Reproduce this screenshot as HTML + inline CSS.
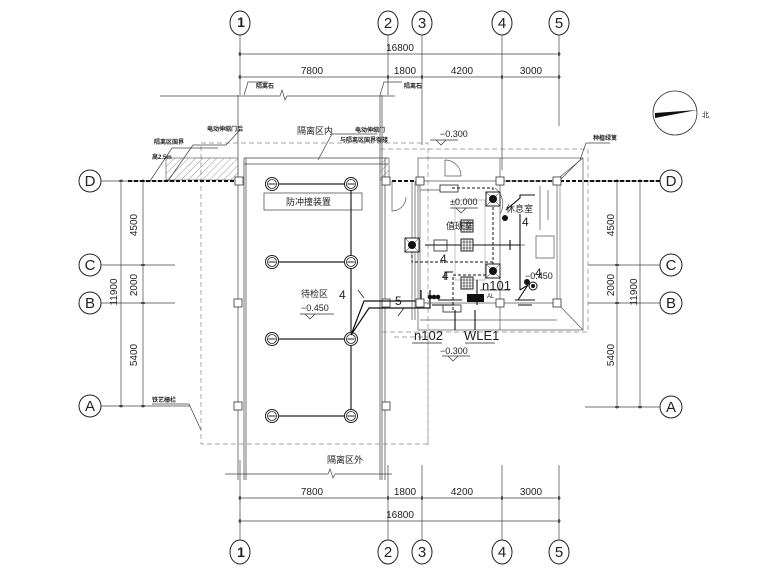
<!DOCTYPE html>
<html><head><meta charset="utf-8"><style>
html,body{margin:0;padding:0;background:#fff;}
svg{display:block}
text{font-family:"Liberation Sans","Noto Sans CJK SC",sans-serif;fill:#222}
</style></head><body>
<svg width="780" height="585" viewBox="0 0 780 585" xmlns="http://www.w3.org/2000/svg">
<defs>
<pattern id="h" width="5" height="5" patternUnits="userSpaceOnUse" patternTransform="rotate(45)"><line x1="0" y1="0" x2="0" y2="5" stroke="#666" stroke-width="0.7"/></pattern>
<g id="lt"><circle r="6.5" fill="#fff" stroke="#222" stroke-width="1"/><circle r="4.5" fill="none" stroke="#222" stroke-width="0.8"/><line x1="-3.5" y1="0" x2="3.5" y2="0" stroke="#222" stroke-width="1"/></g>
<g id="sq"><rect x="-4" y="-4" width="8" height="8" fill="#fff" stroke="#333" stroke-width="0.8"/></g>
<g id="fan"><rect x="-7" y="-7" width="14" height="14" fill="#fff" stroke="#222"/><circle r="4" fill="#111"/><line x1="-7" y1="-7" x2="7" y2="7" stroke="#222" stroke-width="0.5"/><line x1="7" y1="-7" x2="-7" y2="7" stroke="#222" stroke-width="0.5"/></g>
<g id="grid"><rect x="-6" y="-6" width="12" height="12" fill="#fff" stroke="#222"/><path d="M-3,-6V6M0,-6V6M3,-6V6M-6,-3H6M-6,0H6M-6,3H6" stroke="#222" stroke-width="0.6"/></g>
</defs>
<g stroke="#444" stroke-width="0.7" fill="none">
<!-- axis bubbles top/bottom -->
<g stroke="#222" stroke-width="1">
<ellipse cx="240" cy="23" rx="10" ry="12"/><ellipse cx="388" cy="23" rx="10" ry="12"/><ellipse cx="422" cy="23" rx="10" ry="12"/><ellipse cx="502" cy="23" rx="10" ry="12"/><ellipse cx="559" cy="23" rx="10" ry="12"/>
<ellipse cx="240" cy="552" rx="10" ry="12"/><ellipse cx="388" cy="552" rx="10" ry="12"/><ellipse cx="422" cy="552" rx="10" ry="12"/><ellipse cx="502" cy="552" rx="10" ry="12"/><ellipse cx="559" cy="552" rx="10" ry="12"/>
<circle cx="90" cy="181" r="11"/><circle cx="90" cy="265" r="11"/><circle cx="90" cy="303" r="11"/><circle cx="90" cy="406" r="11"/>
<circle cx="671" cy="181" r="11"/><circle cx="671" cy="265" r="11"/><circle cx="671" cy="303" r="11"/><circle cx="671" cy="407" r="11"/>
</g>
<!-- axis extension lines -->
<path d="M240,35V95M388,35V95M422,35V145M502,35V170M559,35V126M240,460V540M388,465V540M422,465V540M502,465V540M559,465V540"/>
<!-- dim lines -->
<path d="M238,54H561M238,77H561M238,498H561M238,521H561"/>
<path d="M240,52v4M559,52v4M240,75v4M388,75v4M422,75v4M502,75v4M559,75v4M240,496v4M388,496v4M422,496v4M502,496v4M559,496v4M240,519v4M559,519v4" stroke="#000" stroke-width="1.2"/>
<!-- left dims -->
<path d="M101,181H175M101,265H175M101,303H175M101,406H190M121,179V408M143,179V408"/>
<path d="M119,181h4M119,406h4M141,181h4M141,265h4M141,303h4M141,406h4" stroke="#000" stroke-width="1.2"/>
<!-- right dims -->
<path d="M588,181H660M588,265H660M588,303H660M585,407H660M617,179V409M640,179V409"/>
<path d="M615,181h4M615,265h4M615,303h4M615,407h4M638,181h4M638,407h4" stroke="#000" stroke-width="1.2"/>
<!-- dashed boundaries -->
<rect x="201" y="143" width="227" height="301" stroke="#888" stroke-dasharray="5,3"/>
<rect x="380" y="149" width="208" height="183" stroke="#888" stroke-dasharray="5,3"/>
<path d="M394,337H428M428,337V445" stroke="#888" stroke-dasharray="5,3"/>
<!-- gate lines -->
<path d="M238,95V480M244,158V480M246,158V480M380,95V480M382,95V480M385,158V480" stroke="#777" stroke-width="1"/>
<path d="M160,96H280l2,-6l3,10l2,-4H395" />
<path d="M225,474H328l2,-5l3,9l2,-4H392"/>
<path d="M244,158H388M244,164H388" />
<!-- hatched walls -->
<rect x="166" y="158" width="72" height="22" fill="url(#h)" stroke="#666"/>
<rect x="380" y="158" width="9" height="22" fill="url(#h)" stroke="#666"/>
<!-- dashed heavy line D -->
<path d="M128,181H235M392,181H415M500,181H552M560,181H660" stroke="#111" stroke-width="2" stroke-dasharray="4,2"/>
<!-- leaders -->
<path d="M150,181L172,148H218M168,181L193,145H226L240,130"/>
<path d="M244,95l4,-13h20M380,95l4,-13h18M318,160l14,-26h45"/>
<path d="M560,180L580,160L586,143H610"/>
<path d="M201,430l-12,-26H152"/>
</g>
<!-- squares -->
<use href="#sq" x="239" y="181"/><use href="#sq" x="238" y="303"/><use href="#sq" x="238" y="406"/>
<use href="#sq" x="386" y="181"/><use href="#sq" x="386" y="303"/><use href="#sq" x="386" y="406"/>
<!-- gate area -->
<rect x="264" y="193" width="98" height="17" fill="none" stroke="#555" stroke-width="0.8"/>
<path d="M272,184H351M272,262H351M272,339H351M272,416H351M351,184V416" stroke="#222" stroke-width="1.2" fill="none"/>
<use href="#lt" x="272" y="184"/><use href="#lt" x="351" y="184"/><use href="#lt" x="272" y="262"/><use href="#lt" x="351" y="262"/>
<use href="#lt" x="272" y="339"/><use href="#lt" x="351" y="339"/><use href="#lt" x="272" y="416"/><use href="#lt" x="351" y="416"/>
<path d="M351,335L364,301H421V290M351,335L369,308H430V290" stroke="#111" stroke-width="1.2" fill="none"/>
<path d="M358,290l6,8M398,316l6,-8" stroke="#222" stroke-width="0.8"/>
<!-- building -->
<g stroke="#555" stroke-width="0.7" fill="none">
<rect x="418" y="158" width="165" height="172"/>
<path d="M412,181V320M415,181V320M420,181V303H557V181H420M500,158V330M420,320H557M555,181L583,158M557,303L583,330"/>
<path d="M557,181V303M560,181V303" stroke="#888"/>
<path d="M420,190H450M500,245H525" />
<path d="M445,160a16,16 0 0 1 16,16M445,160V176H461"/>
<path d="M392,181v30a14,14 0 0 0 14,-14"/>
<path d="M500,214a20,20 0 0 0 -5,-26"/>
<path d="M540,186v44M548,190v30M536,236h18v22h-18z"/>
<path d="M455,200h30v80h-30z" stroke="#aaa"/>
</g>
<use href="#sq" x="420" y="181"/><use href="#sq" x="500" y="181"/><use href="#sq" x="557" y="181"/>
<use href="#sq" x="420" y="303"/><use href="#sq" x="500" y="303"/><use href="#sq" x="557" y="303"/>
<rect x="440" y="185" width="18" height="7" fill="#fff" stroke="#222" stroke-width="0.8"/>
<rect x="443" y="305" width="18" height="7" fill="#fff" stroke="#222" stroke-width="0.8"/>
<rect x="434" y="240" width="13" height="11" fill="#fff" stroke="#222" stroke-width="0.8"/>
<g fill="none" stroke="#111" stroke-width="1" stroke-dasharray="3,2">
<path d="M452,188H493V262H412V245M493,262V275H453V310"/>
</g>
<g fill="none" stroke="#111" stroke-width="1.1">
<path d="M425,245H468M468,245H520M510,240v10M520,214V290M506,210l14,-12V195H535M520,290l8,-5M528,285l-10,15M515,300h20M518,305h14M445,280v-8h8M432,305H455"/>
<path d="M438,300l24,0M455,310V330M475,310V330M477,280v25" />
</g>
<use href="#fan" x="493" y="199"/><use href="#fan" x="412" y="245"/><use href="#fan" x="493" y="271"/>
<use href="#grid" x="467" y="226"/><use href="#grid" x="467" y="245"/><use href="#grid" x="467" y="283"/>
<circle cx="505" cy="218" r="3" fill="#111"/><circle cx="527" cy="282" r="3" fill="#111"/><circle cx="533" cy="286" r="4" fill="#fff" stroke="#111"/><circle cx="533" cy="286" r="2" fill="#111"/>
<rect x="467" y="294" width="17" height="8" fill="#111"/>
<circle cx="430" cy="297" r="2.3" fill="#111"/><circle cx="434" cy="297" r="2.3" fill="#111"/><circle cx="438" cy="297" r="2.3" fill="#111"/>
<!-- compass -->
<circle cx="675" cy="113" r="22" fill="none" stroke="#333" stroke-width="0.8"/>
<path d="M655,113L697,110L655,118Z" fill="#111"/>
<!-- texts -->
<g font-size="10" text-anchor="middle">
<text x="241" y="27" font-weight="bold" font-size="14">1</text><text x="388" y="28" font-size="15">2</text><text x="422" y="28" font-size="15">3</text><text x="502" y="28" font-size="15">4</text><text x="559" y="28" font-size="15">5</text>
<text x="241" y="557" font-weight="bold" font-size="14">1</text><text x="388" y="557" font-size="15">2</text><text x="422" y="557" font-size="15">3</text><text x="502" y="557" font-size="15">4</text><text x="559" y="557" font-size="15">5</text>
<text x="90" y="186" font-size="15">D</text><text x="90" y="270" font-size="15">C</text><text x="90" y="308" font-size="15">B</text><text x="90" y="411" font-size="15">A</text>
<text x="671" y="186" font-size="15">D</text><text x="671" y="270" font-size="15">C</text><text x="671" y="308" font-size="15">B</text><text x="671" y="412" font-size="15">A</text>
<text x="400" y="51">16800</text><text x="312" y="74">7800</text><text x="405" y="74">1800</text><text x="462" y="74">4200</text><text x="531" y="74">3000</text>
<text x="312" y="495">7800</text><text x="405" y="495">1800</text><text x="462" y="495">4200</text><text x="531" y="495">3000</text><text x="400" y="518">16800</text>
</g>
<g font-size="10" text-anchor="middle">
<text transform="translate(137,225) rotate(-90)">4500</text><text transform="translate(137,285) rotate(-90)">2000</text><text transform="translate(137,355) rotate(-90)">5400</text><text transform="translate(117,292) rotate(-90)">11900</text>
<text transform="translate(614,225) rotate(-90)">4500</text><text transform="translate(614,285) rotate(-90)">2000</text><text transform="translate(614,355) rotate(-90)">5400</text><text transform="translate(637,292) rotate(-90)">11900</text>
</g>
<g font-size="6" font-weight="bold">
<text x="256" y="88">隔离石</text><text x="404" y="88">隔离石</text><text x="207" y="131">电动伸缩门后</text><text x="154" y="144">隔离区围界</text><text x="152" y="159">高2.5m</text>
<text x="355" y="132">电动伸缩门</text><text x="340" y="142">与隔离区围界衔接</text><text x="593" y="140">种植绿篱</text><text x="152" y="402">铁艺栅栏</text>
</g>
<g font-size="9" fill="#444">
<text x="297" y="134">隔离区内</text><text x="327" y="463">隔离区外</text><text x="286" y="205">防冲撞装置</text><text x="301" y="297">待检区</text>
<text x="446" y="229">值班室</text><text x="506" y="212">休息室</text><text x="487" y="298" font-size="6">AL</text><text x="702" y="117" font-size="7">北</text>
</g>
<g font-size="9">
<text x="301" y="311">−0.450</text><text x="440" y="137">−0.300</text><text x="440" y="354">−0.300</text><text x="450" y="205">±0.000</text><text x="525" y="279">−0.450</text>
</g>
<g font-size="12">
<text x="339" y="299">4</text><text x="395" y="305">5</text><text x="440" y="263">4</text><text x="442" y="280">4</text><text x="522" y="226">4</text><text x="535" y="277">4</text>
<text x="482" y="290" font-size="13">n101</text><text x="414" y="340" font-size="13">n102</text><text x="464" y="340" font-size="13">WLE1</text>
</g>
<path d="M412,343H442M465,343H495M480,290H510" stroke="#222" stroke-width="0.8"/>
<path d="M430,140h28M436,140l5,5l5,-5M442,356h28M448,356l5,5l5,-5M300,314h34M305,314l5,5l5,-5M450,208h28M456,208l5,5l5,-5" stroke="#333" stroke-width="0.7" fill="none"/>
</svg>
</body></html>
